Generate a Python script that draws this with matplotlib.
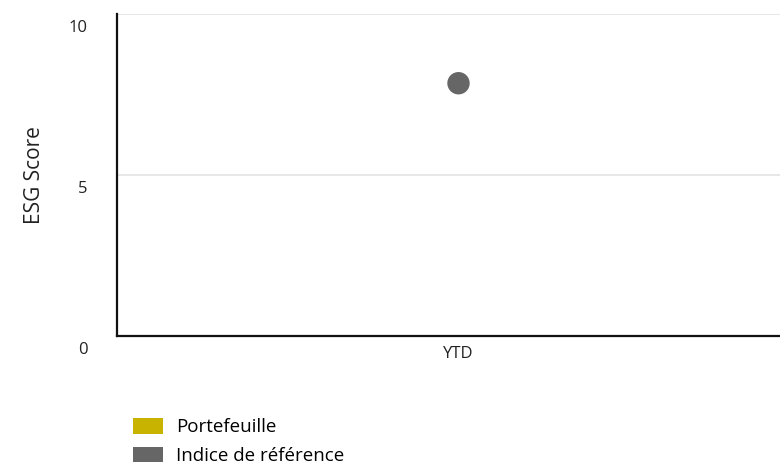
import matplotlib.pyplot as plt
import matplotlib.transforms as mtransforms
from matplotlib.patches import Patch

# data
categories = ['YTD']
benchmark_scores = [7.85]
series_names = ['Portefeuille', 'Indice de référence']
series_colors = ['#c8b400', '#666666']
y_ticks = [0, 5, 10]

plt.rcParams['font.family'] = ['Open Sans', 'DejaVu Sans']

fig = plt.figure(figsize=(7.8, 4.65), dpi=100)
# axes runs slightly past the right edge, like the original
ax = fig.add_axes([117 / 780, 1 - 336 / 465, (800 - 117) / 780, (336 - 14) / 465])

ax.scatter(range(len(categories)), benchmark_scores, s=260, color=series_colors[1],
           edgecolors='none', zorder=3)

ax.set_xlim(-0.5, 0.5)
ax.set_ylim(0, 10)
ax.set_xticks(range(len(categories)))
ax.set_xticklabels(categories, fontsize=12, color='#222222')
ax.set_yticks(y_ticks)
ax.set_yticklabels([str(t) for t in y_ticks], fontsize=12, color='#222222')
ax.tick_params(axis='both', length=0)
ax.tick_params(axis='y', pad=21)
ax.tick_params(axis='x', pad=7)
# push y tick labels a bit below their grid lines
offset = mtransforms.ScaledTranslation(0, -12 / 100, fig.dpi_scale_trans)
for lbl in ax.get_yticklabels():
    lbl.set_transform(lbl.get_transform() + offset)

ax.grid(axis='y', color='#e3e3e3', linewidth=1.2)
ax.set_axisbelow(True)
for s in ['top', 'right']:
    ax.spines[s].set_visible(False)
for s in ['left', 'bottom']:
    ax.spines[s].set_color('#111111')
    ax.spines[s].set_linewidth(1.6)

ax.set_ylabel('ESG Score', fontsize=15, color='#222222')
ax.yaxis.set_label_coords(35 / 780, 1 - 175 / 465, transform=fig.transFigure)
ax.yaxis.label.set_va('center')

handles = [Patch(facecolor=c, edgecolor='none') for c in series_colors]
fig.legend(handles, series_names, loc='upper left', bbox_to_anchor=(118 / 780, 1 - 403 / 465),
           frameon=False, fontsize=13.5, handlelength=1.6, handleheight=0.9,
           handletextpad=0.7, labelspacing=0.55, borderpad=0.3)

fig.savefig('out.png', dpi=100)
